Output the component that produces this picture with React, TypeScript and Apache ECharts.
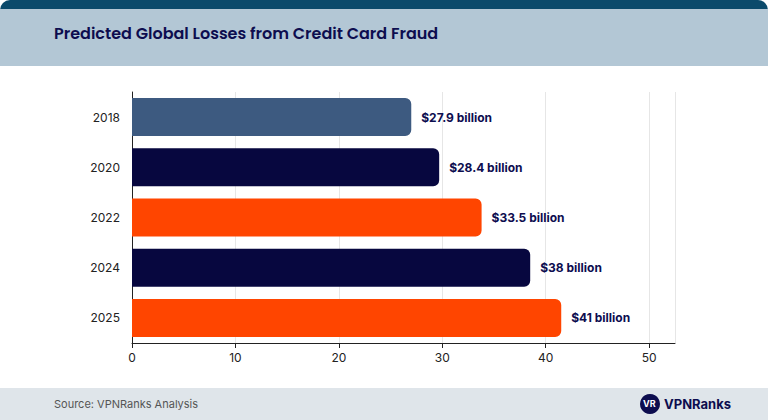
import * as echarts from 'echarts';
import React, { useEffect, useRef } from 'react';

const years = ['2018', '2020', '2022', '2024', '2025'];
const losses = [27.0, 29.7, 33.8, 38.5, 41.5];
const valueLabels = ['$27.9 billion', '$28.4 billion', '$33.5 billion', '$38 billion', '$41 billion'];
const barColors = ['#3d5a80', '#07073f', '#ff4500', '#07073f', '#ff4500'];

export default function App(): React.ReactElement {
  const ref = useRef<HTMLDivElement>(null);

  useEffect(() => {
    document.body.style.margin = '0';
    if (!ref.current) return;
    const chart = echarts.init(ref.current, undefined, { renderer: 'svg' });
    chart.setOption({
      animation: false,
      backgroundColor: '#ffffff',
      textStyle: { fontFamily: 'Inter' },
      graphic: [
        { type: 'rect', left: 0, top: 0, shape: { width: 768, height: 66, r: [10, 10, 0, 0] }, style: { fill: '#0b4a6b' }, z: -2 },
        { type: 'rect', left: 0, top: 9, shape: { width: 768, height: 57 }, style: { fill: '#b3c7d5' }, z: -1 },
        {
          type: 'text', left: 54, top: 25,
          style: { text: 'Predicted Global Losses from Credit Card Fraud', fill: '#0d0d4f', font: '600 16px Poppins, Inter, sans-serif' },
        },
        { type: 'rect', left: 0, top: 388, shape: { width: 768, height: 32 }, style: { fill: '#dfe5ea' }, z: -1 },
        {
          type: 'text', left: 54, top: 398,
          style: { text: 'Source: VPNRanks Analysis', fill: '#555', font: '11px Inter, sans-serif' },
        },
        { type: 'circle', shape: { cx: 650, cy: 404, r: 10 }, style: { fill: '#0d0d4f' } },
        { type: 'text', left: 643, top: 399, style: { text: 'VR', fill: '#fff', font: 'bold 9px Inter' } },
        { type: 'text', left: 664, top: 397, style: { text: 'VPNRanks', fill: '#0d0d4f', font: 'bold 13px Inter, sans-serif' } },
      ],
      grid: { left: 132, right: 93, top: 92, bottom: 77 },
      xAxis: {
        type: 'value', min: 0, max: 52.5, interval: 10,
        axisLine: { show: true, lineStyle: { color: '#222', width: 1 } },
        axisTick: { show: true, lineStyle: { color: '#222' } },
        axisLabel: { color: '#222', fontSize: 12, showMaxLabel: false },
        splitLine: { show: true, lineStyle: { color: '#e6e6e6' } },
      },
      yAxis: {
        type: 'category', data: years, inverse: true,
        axisLine: { show: true, lineStyle: { color: '#222' } },
        axisTick: { show: false },
        axisLabel: { color: '#222', fontSize: 12, margin: 12 },
      },
      series: [
        {
          type: 'bar',
          barWidth: 38,
          data: losses.map((v, i) => ({ value: v, itemStyle: { color: barColors[i] } })),
          itemStyle: { borderRadius: [0, 6, 6, 0] },
          label: {
            show: true, position: 'right', distance: 10,
            formatter: (p: any) => valueLabels[p.dataIndex],
            color: '#0d0d4f', fontSize: 12, fontWeight: 'bold',
          },
        },
      ],
    });
    return () => chart.dispose();
  }, []);

  return <div ref={ref} style={{ width: 768, height: 420 }} />;
}
